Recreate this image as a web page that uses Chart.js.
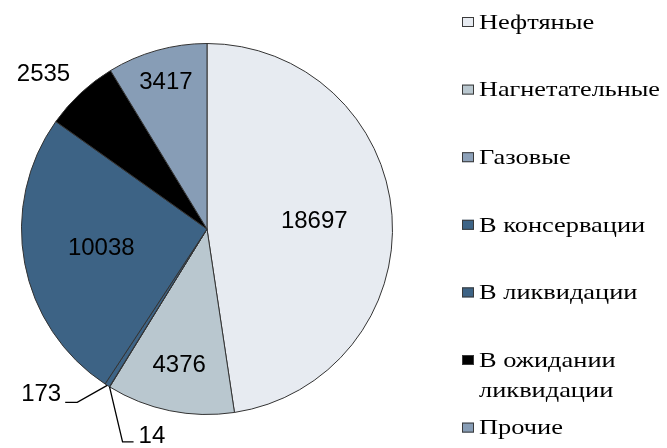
<!DOCTYPE html>
<html lang="ru">
<head>
    <meta charset="UTF-8">
    <title>Фонд скважин</title>
    <script src="https://cdn.jsdelivr.net/npm/chart.js@4.4.1/dist/chart.umd.min.js"></script>
    <style>
        html, body { margin: 0; padding: 0; background: #fff; }
        canvas { display: block; }
    </style>
</head>
<body>
    <canvas id="pieChart" width="667" height="448"></canvas>

    <script>
        // data
        const categories = ['Нефтяные', 'Нагнетательные', 'Газовые', 'В консервации', 'В ликвидации', 'В ожидании ликвидации', 'Прочие'];
        const wellCounts = [18697, 4376, 14, 173, 10038, 2535, 3417];
        const sliceColors = ['#e7ebf1', '#b9c7cf', '#8da1b9', '#3e6486', '#3d6385', '#000000', '#879db6'];
        // legend text lines (one entry wraps)
        const legendLines = [['Нефтяные'], ['Нагнетательные'], ['Газовые'], ['В консервации'], ['В ликвидации'], ['В ожидании', 'ликвидации'], ['Прочие']];

        const serifFont = '22px "Liberation Serif", "DejaVu Serif", "Times New Roman", serif';

        // how each value label sits: radial fraction for inside labels, leader offsets for tiny ones
        const labelStyle = [
            { r: 0.58 },
            { r: 0.75 },
            { leader: [[13, 55], [24, 55]], align: 'left', dx: 5, dy: -5 },
            { leader: [[-30, 17], [-42, 17]], align: 'right', dx: -4, dy: -8 },
            { r: 0.58 },
            { r: 1.23, dx: -8, dy: 12 },
            { r: 0.82 }
        ];

        const valueLabels = {
            id: 'valueLabels',
            afterDatasetsDraw(chart) {
                const ctx = chart.ctx;
                const arcs = chart.getDatasetMeta(0).data;
                ctx.save();
                ctx.font = '24px "Liberation Sans", Arial, sans-serif';
                ctx.fillStyle = '#000';
                ctx.strokeStyle = '#000';
                ctx.lineWidth = 1.3;
                ctx.textBaseline = 'middle';
                arcs.forEach((arc, i) => {
                    const p = arc.getProps(['x', 'y', 'startAngle', 'endAngle', 'outerRadius']);
                    const mid = (p.startAngle + p.endAngle) / 2;
                    const st = labelStyle[i];
                    const text = String(wellCounts[i]);
                    if (st.leader) {
                        const ax = p.x + Math.cos(mid) * p.outerRadius;
                        const ay = p.y + Math.sin(mid) * p.outerRadius;
                        ctx.beginPath();
                        ctx.moveTo(ax, ay);
                        st.leader.forEach(([lx, ly]) => ctx.lineTo(ax + lx, ay + ly));
                        ctx.stroke();
                        const end = st.leader[st.leader.length - 1];
                        ctx.textAlign = st.align;
                        ctx.fillText(text, ax + end[0] + st.dx, ay + end[1] + st.dy);
                    } else {
                        const rr = p.outerRadius * st.r;
                        ctx.textAlign = 'center';
                        ctx.fillText(text, p.x + Math.cos(mid) * rr + (st.dx || 0), p.y + Math.sin(mid) * rr + (st.dy || 0));
                    }
                });
                ctx.restore();
            }
        };

        const sideLegend = {
            id: 'sideLegend',
            afterDraw(chart) {
                const ctx = chart.ctx;
                const x0 = 462, y0 = 23, step = 67.6, lineGap = 30;
                ctx.save();
                ctx.font = serifFont;
                ctx.textBaseline = 'middle';
                ctx.textAlign = 'left';
                categories.forEach((c, i) => {
                    const y = y0 + step * i;
                    ctx.fillStyle = sliceColors[i];
                    ctx.fillRect(x0, y - 6, 12, 10);
                    ctx.strokeStyle = '#3a3a3a';
                    ctx.lineWidth = 1;
                    ctx.strokeRect(x0 + 0.5, y - 5.5, 11, 9);
                    ctx.fillStyle = '#000';
                    legendLines[i].forEach((line, k) => {
                        ctx.save();
                        ctx.translate(x0 + 17, y + k * lineGap);
                        // stretch the line to the width it has in the picture
                        const w = ctx.measureText(line).width;
                        const sx = line === 'Нагнетательные' ? 181 / w : 1.2;
                        ctx.scale(sx, 1);
                        ctx.fillText(line, 0, 0);
                        ctx.restore();
                    });
                });
                ctx.restore();
            }
        };

        function draw() {
            new Chart(document.getElementById('pieChart'), {
                type: 'pie',
                data: {
                    labels: categories,
                    datasets: [{
                        data: wellCounts,
                        backgroundColor: sliceColors,
                        borderColor: '#333333',
                        borderWidth: 1
                    }]
                },
                options: {
                    responsive: false,
                    animation: false,
                    layout: { padding: { left: 21, right: 274, top: 43, bottom: 33 } },
                    plugins: {
                        legend: { display: false },
                        tooltip: { enabled: false }
                    }
                },
                plugins: [valueLabels, sideLegend]
            });
        }

        if (document.fonts && document.fonts.load) {
            document.fonts.load(serifFont, 'Нефтяные').then(draw, draw);
        } else {
            draw();
        }
    </script>
</body>
</html>
